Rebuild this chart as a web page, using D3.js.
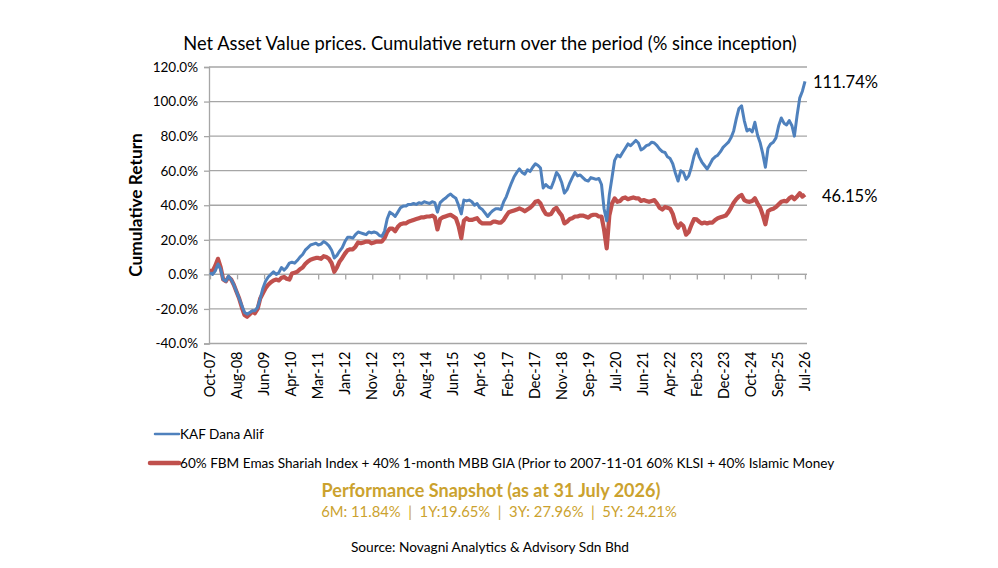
<!DOCTYPE html>
<html>
<head>
<meta charset="utf-8">
<script src="https://cdn.jsdelivr.net/npm/d3@7"></script>
<style>
  body { margin: 0; background: #fff; }
  text { font-family: Lato, "Open Sans", sans-serif; fill: #000; }
</style>
</head>
<body>
<div class="chart"></div>
<script>
// monthly points, Oct 2007 .. Jul 2026
var months = [
  "2007-10","2007-11","2007-12",
  "2008-01","2008-02","2008-03","2008-04","2008-05","2008-06","2008-07","2008-08","2008-09","2008-10","2008-11","2008-12",
  "2009-01","2009-02","2009-03","2009-04","2009-05","2009-06","2009-07","2009-08","2009-09","2009-10","2009-11","2009-12",
  "2010-01","2010-02","2010-03","2010-04","2010-05","2010-06","2010-07","2010-08","2010-09","2010-10","2010-11","2010-12",
  "2011-01","2011-02","2011-03","2011-04","2011-05","2011-06","2011-07","2011-08","2011-09","2011-10","2011-11","2011-12",
  "2012-01","2012-02","2012-03","2012-04","2012-05","2012-06","2012-07","2012-08","2012-09","2012-10","2012-11","2012-12",
  "2013-01","2013-02","2013-03","2013-04","2013-05","2013-06","2013-07","2013-08","2013-09","2013-10","2013-11","2013-12",
  "2014-01","2014-02","2014-03","2014-04","2014-05","2014-06","2014-07","2014-08","2014-09","2014-10","2014-11","2014-12",
  "2015-01","2015-02","2015-03","2015-04","2015-05","2015-06","2015-07","2015-08","2015-09","2015-10","2015-11","2015-12",
  "2016-01","2016-02","2016-03","2016-04","2016-05","2016-06","2016-07","2016-08","2016-09","2016-10","2016-11","2016-12",
  "2017-01","2017-02","2017-03","2017-04","2017-05","2017-06","2017-07","2017-08","2017-09","2017-10","2017-11","2017-12",
  "2018-01","2018-02","2018-03","2018-04","2018-05","2018-06","2018-07","2018-08","2018-09","2018-10","2018-11","2018-12",
  "2019-01","2019-02","2019-03","2019-04","2019-05","2019-06","2019-07","2019-08","2019-09","2019-10","2019-11","2019-12",
  "2020-01","2020-02","2020-03","2020-04","2020-05","2020-06","2020-07","2020-08","2020-09","2020-10","2020-11","2020-12",
  "2021-01","2021-02","2021-03","2021-04","2021-05","2021-06","2021-07","2021-08","2021-09","2021-10","2021-11","2021-12",
  "2022-01","2022-02","2022-03","2022-04","2022-05","2022-06","2022-07","2022-08","2022-09","2022-10","2022-11","2022-12",
  "2023-01","2023-02","2023-03","2023-04","2023-05","2023-06","2023-07","2023-08","2023-09","2023-10","2023-11","2023-12",
  "2024-01","2024-02","2024-03","2024-04","2024-05","2024-06","2024-07","2024-08","2024-09","2024-10","2024-11","2024-12",
  "2025-01","2025-02","2025-03","2025-04","2025-05","2025-06","2025-07","2025-08","2025-09","2025-10","2025-11","2025-12",
  "2026-01","2026-02","2026-03","2026-04","2026-05","2026-06","2026-07"
];

// KAF Dana Alif, cumulative return %
var fund = [
  1, 0, 2,
  6, 3, -3, -4, -1, -3, -6, -10, -14, -18, -22, -23,
  -22, -21, -21, -19, -14, -8, -4, -1.5, 0, 1.5, 0, 1,
  4, 2.5, 4, 6.5, 7, 6.5, 8, 10, 11.5, 14, 15.5, 17,
  17.5, 18, 17, 17.5, 19, 18, 16.5, 14, 9.5, 11, 13.5, 15.5,
  19, 21.5, 21.5, 21, 23, 24.5, 24, 23.5, 23, 24.5, 24, 24.5,
  24, 22.5, 22, 25, 32, 36, 35, 33.5, 36, 38.5, 39.5, 39.5,
  40.5, 40.5, 41, 40.5, 41.5, 41, 42, 41.5, 41, 42, 41.5, 36,
  41.5, 43, 44, 45.5, 46.5, 45, 44, 40, 35, 43, 42.5, 43,
  42, 40, 41, 38.5, 37.5, 35.5, 33.5, 35.5, 37, 38, 38, 37.5,
  42, 45, 49, 53, 56.5, 59, 61, 59, 58, 60.5, 59.5, 62,
  64, 63, 61.5, 50, 52, 50.5, 50, 54, 59, 57, 53, 47,
  49, 53, 56, 59, 57, 57.5, 56, 54.5, 54, 56, 55.5, 55,
  55.5, 52, 38, 31, 46, 56, 66, 69, 68, 70.5, 73, 75.5,
  74.5, 76, 77.5, 76, 72, 73, 74.5, 75, 76.5, 76, 74.5, 72.5,
  71, 70.5, 68, 67, 64, 58.5, 54, 60, 59, 55, 57, 62,
  68.5, 72.5, 68, 65, 63, 61, 63.5, 66.5, 68, 69, 71, 73.5,
  75, 76.5, 79, 83, 90, 96, 97.5, 89, 83, 84, 82.5, 88,
  80.5, 76, 70, 62, 73, 75.5, 76.5, 79, 86, 90.5, 87.5, 86.5,
  89, 86, 80, 92, 102, 106, 111.74
];

// 60% FBM Emas Shariah + 40% 1-month MBB GIA, cumulative return %
var bench = [
  2, 2, 5,
  9, 4, -3, -4, -1.5, -3, -6, -10, -14, -19, -23.5, -24.5,
  -23, -21.5, -22.5, -20, -14, -11, -8, -6, -4.5, -3.5, -3, -3.5,
  -2, -1.5, -2.5, -3, 0.5, 1, 1.5, 3, 4, 6, 7.5, 8.5,
  9, 9.5, 9.5, 9, 10.5, 10, 9, 6.5, 1.5, 4, 7.5, 9.5,
  12, 14, 14.5, 14.5, 16, 18.5, 18, 18.5, 19, 19, 18, 18.5,
  19, 19, 19, 21, 24.5, 26.5, 26.5, 25, 27.5, 29, 29.5, 29.5,
  30.5, 31, 31.5, 32, 32.5, 33, 33, 33.5, 33.5, 34, 33, 26,
  32, 33, 33.5, 34, 34.5, 33.5, 32.5, 28, 21, 31, 32.5, 31.5,
  31.5, 32, 32.5, 30.5, 29.5, 29.5, 29.5, 29.5, 30.5, 30.5, 30, 30,
  31.5, 34, 36, 36.5, 37, 37.5, 38.2, 37.5, 36.5, 37.5, 38.5, 40,
  42, 42.5, 41, 37.5, 35, 34.5, 35, 37.5, 38.5, 36, 34, 29.5,
  30.5, 32, 32.5, 33.5, 33.5, 34, 34, 33.5, 32.8, 34, 34.5, 34.5,
  33.5, 33.5, 26, 15, 34, 41, 44, 42, 42.5, 44, 44.5, 43.5,
  44, 44.5, 44, 44, 42.5, 43, 42.5, 42, 42.5, 43, 41, 38.5,
  37.5, 39, 38.5, 38, 35, 29.5, 27, 29.5, 28, 23, 24.5, 28.5,
  32, 31.8, 30.5, 29.5, 30, 29.5, 30, 30, 31.5, 32.5, 33, 33.5,
  34, 36, 38.5, 41.5, 43.5, 45, 46, 43, 42.2, 42, 42.5, 44,
  41, 38.5, 34.5, 29, 36.5, 37.5, 38, 39, 40.5, 42, 42.5, 42.2,
  44, 45, 43.5, 45, 47, 45, 46.15
];

var xTickLabels = ["Oct-07","Aug-08","Jun-09","Apr-10","Mar-11","Jan-12","Nov-12","Sep-13","Aug-14",
  "Jun-15","Apr-16","Feb-17","Dec-17","Nov-18","Sep-19","Jul-20","Jun-21","Apr-22","Feb-23",
  "Dec-23","Oct-24","Sep-25","Jul-26"];
var yTicks = [-40, -20, 0, 20, 40, 60, 80, 100, 120];

var seriesNames = ["KAF Dana Alif",
  "60% FBM Emas Shariah Index + 40% 1-month MBB GIA (Prior to 2007-11-01 60% KLSI + 40% Islamic Money"];
var seriesColors = ["#4F81BD", "#C0504D"];

var svgWidth = 998;
var svgHeight = 568;
var plot = { left: 209, right: 807, top: 67, bottom: 343.5 };
var xEnd = 805;

var svg = d3.select(".chart")
  .append("svg")
  .attr("width", svgWidth)
  .attr("height", svgHeight);

var parseMonth = d3.timeParse("%Y-%m");
var dates = months.map(parseMonth);

var xScale = d3.scaleTime()
  .domain([dates[0], dates[dates.length - 1]])
  .range([plot.left + 1, xEnd]);

// Excel category axis: labels every n points, so they sit evenly spaced
var xTickScale = d3.scalePoint()
  .domain(xTickLabels)
  .range([plot.left + 1, xEnd]);

var yScale = d3.scaleLinear()
  .domain([-40, 120])
  .range([plot.bottom, plot.top]);

// gridlines
svg.append("g")
  .selectAll("line")
  .data(yTicks)
  .enter()
  .append("line")
  .attr("x1", plot.left)
  .attr("x2", plot.right)
  .attr("y1", d => yScale(d))
  .attr("y2", d => yScale(d))
  .attr("stroke", "#A6A6A6")
  .attr("stroke-width", 1.3);

// y axis
var leftAxis = d3.axisLeft(yScale)
  .tickValues(yTicks)
  .tickSize(5)
  .tickFormat(d => d.toFixed(1) + "%");

var yAxisG = svg.append("g")
  .attr("transform", `translate(${plot.left}, 0)`)
  .call(leftAxis);
yAxisG.select(".domain").attr("stroke", "#A6A6A6").attr("stroke-width", 1.3);
yAxisG.selectAll(".tick line").attr("stroke", "#A6A6A6").attr("stroke-width", 1.3);
yAxisG.selectAll(".tick text")
  .attr("x", -11)
  .style("font-size", "13.5px")
  .style("font-family", "Lato, sans-serif");

// x axis crosses at 0%, tick labels at the bottom
var bottomAxis = d3.axisBottom(xTickScale)
  .tickSize(5)
  .tickFormat("");

var xAxisG = svg.append("g")
  .attr("transform", `translate(0, ${yScale(0)})`)
  .call(bottomAxis);
xAxisG.select(".domain")
  .attr("d", `M${plot.left},0H${plot.right}`)
  .attr("stroke", "#A6A6A6").attr("stroke-width", 1.3);
xAxisG.selectAll(".tick line").attr("stroke", "#A6A6A6").attr("stroke-width", 1.3);

svg.append("g")
  .selectAll("text")
  .data(xTickLabels)
  .enter()
  .append("text")
  .attr("transform", d => `translate(${xTickScale(d) + 5}, ${plot.bottom + 8}) rotate(-90)`)
  .attr("text-anchor", "end")
  .style("font-size", "14.5px")
  .text(d => d);

// lines
var line = d3.line()
  .x((d, i) => xScale(dates[i]))
  .y(d => yScale(d));

svg.append("path")
  .datum(bench)
  .attr("fill", "none")
  .attr("stroke", seriesColors[1])
  .attr("stroke-width", 4.2)
  .attr("stroke-linejoin", "round")
  .attr("d", line);

svg.append("path")
  .datum(fund)
  .attr("fill", "none")
  .attr("stroke", seriesColors[0])
  .attr("stroke-width", 3)
  .attr("stroke-linejoin", "round")
  .attr("d", line);

// end labels
svg.append("text")
  .attr("x", 813)
  .attr("y", yScale(fund[fund.length - 1]) + 7)
  .style("font-size", "16.5px")
  .text(fund[fund.length - 1].toFixed(2) + "%");

svg.append("text")
  .attr("x", 822)
  .attr("y", yScale(bench[bench.length - 1]) + 7)
  .style("font-size", "16.5px")
  .text(bench[bench.length - 1].toFixed(2) + "%");

// title
svg.append("text")
  .attr("x", 490)
  .attr("y", 50)
  .attr("text-anchor", "middle")
  .style("font-size", "18.3px")
  .text("Net Asset Value prices. Cumulative return over the period (% since inception)");

// y label
svg.append("text")
  .attr("transform", "translate(142, 205) rotate(-90)")
  .attr("text-anchor", "middle")
  .style("font-size", "17.3px")
  .style("font-weight", "bold")
  .text("Cumulative Return");

// legend
var legend = svg.append("g")
  .selectAll("g")
  .data(seriesNames)
  .enter()
  .append("g")
  .attr("transform", (d, i) => `translate(0, ${434 + i * 29})`);

legend.append("line")
  .attr("x1", (d, i) => i ? 150 : 155)
  .attr("x2", 179)
  .attr("stroke", (d, i) => seriesColors[i])
  .attr("stroke-width", (d, i) => i ? 4.5 : 2.5)
  .attr("stroke-linecap", "round");

legend.append("text")
  .attr("x", 180)
  .attr("y", 5)
  .style("font-size", "13.6px")
  .text(d => d);

// performance snapshot
svg.append("text")
  .attr("x", 491)
  .attr("y", 497)
  .attr("text-anchor", "middle")
  .style("font-size", "18px")
  .style("font-weight", "bold")
  .style("fill", "#CBA22E")
  .text("Performance Snapshot (as at 31 July 2026)");

svg.append("text")
  .attr("x", 499)
  .attr("y", 517)
  .attr("text-anchor", "middle")
  .style("font-size", "14.8px")
  .style("fill", "#CBA22E")
  .style("white-space", "pre")
  .text("6M: 11.84%  |  1Y:19.65%  |  3Y: 27.96%  |  5Y: 24.21%");

svg.append("text")
  .attr("x", 490)
  .attr("y", 552)
  .attr("text-anchor", "middle")
  .style("font-size", "13.7px")
  .text("Source: Novagni Analytics & Advisory Sdn Bhd");
</script>
</body>
</html>
